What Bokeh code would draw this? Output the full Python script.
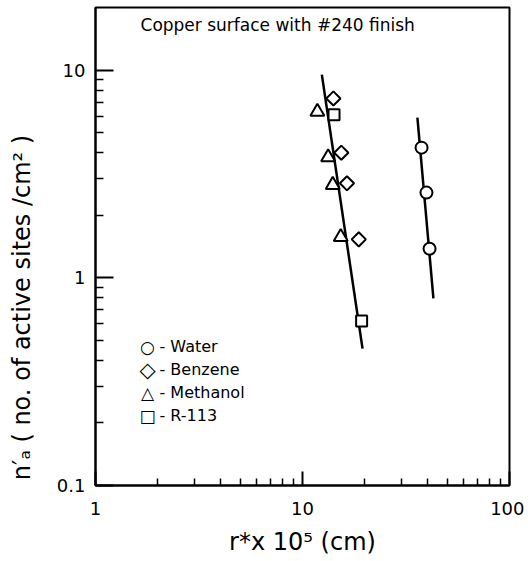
import math
from bokeh.plotting import figure
from bokeh.models import (FixedTicker, CustomJSTickFormatter, Label, Range1d)
from bokeh.embed import file_html
from bokeh.resources import INLINE

# ---- data ----
water_r = [37.6, 39.7, 41.1]
water_n = [4.23, 2.57, 1.38]
benzene_r = [14.1, 15.4, 16.4, 18.7]
benzene_n = [7.3, 4.0, 2.85, 1.53]
methanol_r = [11.8, 13.3, 14.0, 15.3]
methanol_n = [6.3, 3.8, 2.8, 1.57]
r113_r = [14.2, 19.3]
r113_n = [6.1, 0.62]
fit_organic_r = [12.4, 19.5]
fit_organic_n = [9.5, 0.456]
fit_water_r = [35.9, 42.9]
fit_water_n = [5.9, 0.795]
x_major = [1, 10, 100]
y_major = [0.1, 1, 10]
title_text = "Copper surface with #240 finish"
x_title = "r*x 10\u2075 (cm)"
y_title = "n\u2032\u2090 ( no. of active sites /cm\u00b2 )"
legend_symbols = ["\u25cb", "\u25c7", "\u25b3", "\u25a1"]
legend_labels = ["- Water", "- Benzene", "- Methanol", "- R-113"]
legend_symbol_sizes = ["17px", "21px", "17px", "17px"]

FONT = "DejaVu Sans"

p = figure(width=524, height=558, x_axis_type="log", y_axis_type="log",
           x_range=Range1d(1, 100), y_range=Range1d(0.1, 20),
           output_backend="svg", toolbar_location=None,
           min_border_left=95, min_border_right=15, min_border_top=7,
           min_border_bottom=73)
p.grid.visible = False
p.background_fill_color = "white"
p.border_fill_color = "white"
p.outline_line_color = "black"
p.outline_line_width = 2

x_minor = [k * 10 ** d for d in (0, 1) for k in range(2, 10)]
y_minor = [k * 10 ** d for d in (-1, 0) for k in range(2, 10)]
p.xaxis.ticker = FixedTicker(ticks=x_major, minor_ticks=x_minor)
p.yaxis.ticker = FixedTicker(ticks=y_major, minor_ticks=y_minor)
fmt = CustomJSTickFormatter(code="return tick.toString();")
p.xaxis.formatter = fmt
p.yaxis.formatter = fmt

for ax in (p.xaxis[0], p.yaxis[0]):
    ax.axis_line_color = "black"
    ax.axis_line_width = 2
    ax.major_tick_line_color = "black"
    ax.major_tick_line_width = 2
    ax.minor_tick_line_color = "black"
    ax.minor_tick_line_width = 1.5
    ax.major_tick_out = 0
    ax.minor_tick_out = 0
    ax.major_label_text_font = FONT
    ax.major_label_text_font_size = "18px"
    ax.major_label_text_color = "black"
    ax.axis_label_text_font = FONT
    ax.axis_label_text_font_style = "normal"
    ax.axis_label_text_color = "black"

p.xaxis.major_tick_in = 14
p.xaxis.minor_tick_in = 7
p.yaxis.major_tick_in = 18
p.yaxis.minor_tick_in = 8
p.xaxis.major_label_standoff = 16
p.yaxis.major_label_standoff = 10
p.xaxis.axis_label = x_title
p.xaxis.axis_label_text_font_size = "24px"
p.xaxis.axis_label_standoff = 10
# trailing no-break spaces push the title down, as in the original
p.yaxis.axis_label = y_title + "\u00a0" * 16
p.yaxis.axis_label_text_font_size = "24px"
p.yaxis.axis_label_standoff = 18

# fitted lines
p.line(fit_organic_r, fit_organic_n, line_color="black", line_width=2.5)
p.line(fit_water_r, fit_water_n, line_color="black", line_width=2.5)

common = dict(fill_color="white", line_color="black", line_width=2)
p.scatter(water_r, water_n, marker="circle", size=12, **common)
p.scatter(benzene_r, benzene_n, marker="square", size=10,
          angle=math.pi / 4, **common)
p.scatter(methanol_r, methanol_n, marker="triangle", size=14, **common)
p.scatter(r113_r, r113_n, marker="square", size=11, **common)

# legend key (screen units, from frame's lower-left corner)
for i, (sym, lab, fs) in enumerate(zip(legend_symbols, legend_labels,
                                       legend_symbol_sizes)):
    ys = 139 - 23 * i
    p.add_layout(Label(x=52, y=ys, x_units="screen", y_units="screen",
                       text=sym, text_font=FONT, text_font_size=fs,
                       text_color="black", text_align="center",
                       text_baseline="middle"))
    p.add_layout(Label(x=64, y=ys, x_units="screen", y_units="screen",
                       text=lab, text_font=FONT, text_font_size="16px",
                       text_color="black", text_align="left",
                       text_baseline="middle"))

p.add_layout(Label(x=1.65, y=16.4, text=title_text, text_font=FONT,
                   text_font_size="17px", text_color="black",
                   text_baseline="middle", text_align="left"))

open("out.html", "w").write(file_html(p, INLINE))
